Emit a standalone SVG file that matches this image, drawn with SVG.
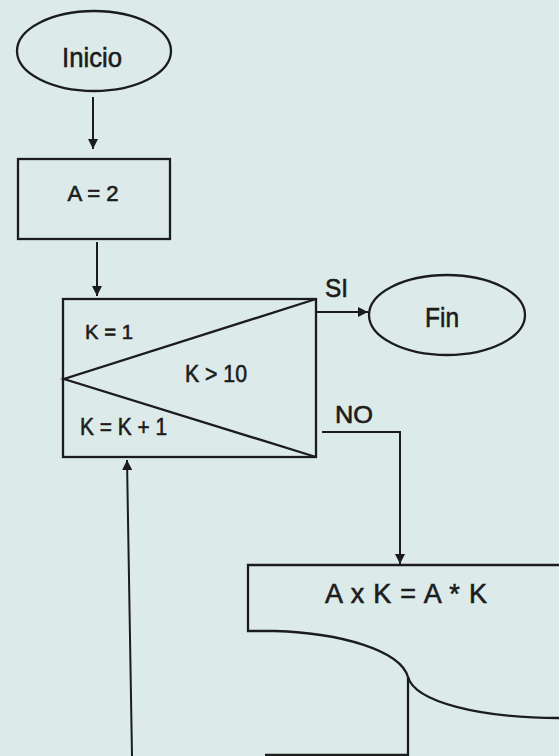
<svg xmlns="http://www.w3.org/2000/svg" width="559" height="756" viewBox="0 0 559 756">
<defs>
<style>
.s{fill:none;stroke:#1c1c1c;stroke-width:2.3}
.c{fill:none;stroke:#1c1c1c;stroke-width:2}
.t{font-family:"Liberation Sans",Arial,sans-serif;fill:#1c1c1c;stroke:#1c1c1c;stroke-width:0.6}
</style>
<marker id="ah" viewBox="0 0 10 10" refX="10" refY="5" markerWidth="11" markerHeight="10" markerUnits="userSpaceOnUse" orient="auto">
<path d="M0,0 L10,5 L0,10 Z" fill="#1c1c1c"/>
</marker>
</defs>
<rect width="559" height="756" fill="#dcebe9"/>
<g id="inicio">
<ellipse class="s" cx="94" cy="51" rx="77" ry="40"/>
<text class="t" x="92" y="67" font-size="28" text-anchor="middle" textLength="60" lengthAdjust="spacingAndGlyphs">Inicio</text>
</g>
<g id="asignaA">
<rect class="s" x="18" y="159" width="152" height="80"/>
<text class="t" x="93" y="201" font-size="22" text-anchor="middle" textLength="51" lengthAdjust="spacingAndGlyphs">A = 2</text>
</g>
<g id="ciclo">
<rect class="s" x="63" y="299" width="253" height="158"/>
<path class="s" d="M316,299 L64,379 L316,457" stroke-width="2.8"/>
<text class="t" x="85" y="339" font-size="21" textLength="48" lengthAdjust="spacingAndGlyphs">K = 1</text>
<text class="t" x="185" y="382" font-size="23" textLength="62" lengthAdjust="spacingAndGlyphs">K &gt; 10</text>
<text class="t" x="80" y="435" font-size="24" textLength="87" lengthAdjust="spacingAndGlyphs">K = K + 1</text>
</g>
<g id="fin">
<ellipse class="s" cx="447" cy="315" rx="78" ry="40"/>
<text class="t" x="425" y="327" font-size="28" textLength="34" lengthAdjust="spacingAndGlyphs">Fin</text>
</g>
<g id="producto">
<path class="s" d="M559,565 H248 V631 H275 C340,633 400,650 408,677"/>
<path class="s" d="M408,677 C415,702 480,718 559,718"/>
<path class="s" d="M408,677 V755 H265"/>
<text class="t" x="325" y="603" font-size="27" textLength="162" lengthAdjust="spacing">A x K = A * K</text>
</g>
<g id="connectors">
<line class="c" x1="93" y1="97" x2="93" y2="149" marker-end="url(#ah)"/>
<line class="c" x1="97" y1="242" x2="97" y2="296" marker-end="url(#ah)"/>
<line class="c" x1="317" y1="312" x2="368" y2="312" marker-end="url(#ah)"/>
<path class="c" d="M322,432 H400 V564" marker-end="url(#ah)"/>
<line class="c" x1="132" y1="756" x2="127" y2="460" marker-end="url(#ah)"/>
<text class="t" x="325" y="297" font-size="25" textLength="23" lengthAdjust="spacingAndGlyphs">SI</text>
<text class="t" x="335" y="423" font-size="24" textLength="38" lengthAdjust="spacingAndGlyphs">NO</text>
</g>
</svg>
